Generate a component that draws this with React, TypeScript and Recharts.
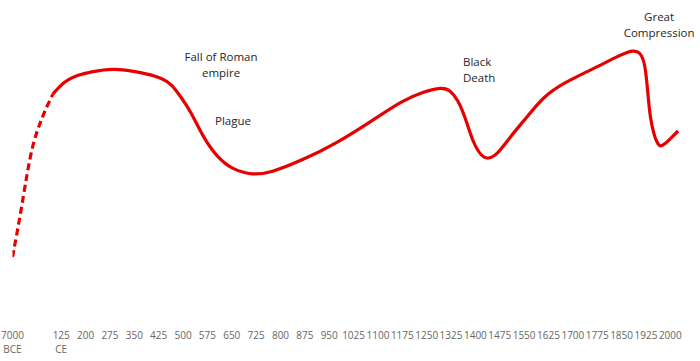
import React from "react";
import { LineChart, Line, XAxis, YAxis, ReferenceDot } from "recharts";

// Axis positions (index along the category axis) and their labels
const tickPositions = [0, 2, 3, 4, 5, 6, 7, 8, 9, 10, 11, 12, 13, 14, 15, 16, 17, 18, 19, 20, 21, 22, 23, 24, 25, 26, 27];
const tickLabels = [
  ["7000", "BCE"], ["125", "CE"], ["200"], ["275"], ["350"], ["425"], ["500"], ["575"], ["650"],
  ["725"], ["800"], ["875"], ["950"], ["1025"], ["1100"], ["1175"], ["1250"], ["1325"], ["1400"],
  ["1475"], ["1550"], ["1625"], ["1700"], ["1775"], ["1850"], ["1925"], ["2000"],
];

// Estimated curve (axis position, relative level)
const dashedPos = [0, 0.31, 0.6, 0.84, 1.13, 1.38, 1.66];
const dashedVal = [63, 103, 147, 177, 197, 212, 226];

const solidPos = [1.66, 1.95, 2.24, 2.69, 3.18, 4.12, 5.23, 6.18, 6.55, 6.88, 7.29, 7.82, 8.39, 9.05, 9.87, 10.57, 11.92, 13.32, 14.68, 16.03, 16.85, 17.63, 17.96, 18.29, 18.58, 18.9, 19.27, 19.52, 19.89, 20.42, 21.12, 21.78, 22.6, 23.99, 24.94, 25.47, 25.76, 25.97, 26.09, 26.17, 26.33, 26.46, 26.58, 26.79, 27.07, 27.32];
const solidVal = [226, 234, 240, 245, 248, 252, 248, 242, 235, 224, 210, 183, 163, 150, 145, 147, 160, 177, 198, 220, 228, 233, 230, 220, 203, 177, 163, 161, 165, 183, 203, 223, 237, 253, 265, 270, 268, 257, 223, 203, 185, 177, 173, 176, 183, 189];

const annotationText = [["Fall of Roman", "empire"], ["Plague"], ["Black", "Death"], ["Great", "Compression"]];
const annotationPos = [8.56, 9.05, 18.49, 26.54];
const annotationVal = [263, 199, 258, 303];
const annotationAnchor = ["middle", "middle", "start", "middle"];

const dashedData = dashedPos.map((p, i) => ({ pos: p, v: dashedVal[i] }));
const solidData = solidPos.map((p, i) => ({ pos: p, v: solidVal[i] }));

const FONT = "'Open Sans', sans-serif";
const RED = "#e60000";

const Tick = (props: any) => {
  const { x, y, payload } = props;
  const idx = tickPositions.indexOf(payload.value);
  const lines = idx >= 0 ? tickLabels[idx] : [];
  return (
    <g>
      {lines.map((t: string, i: number) => (
        <text key={i} x={x} y={y + 11 + i * 14} textAnchor="middle" fontSize={10} fontFamily={FONT} fill="#666">
          {t}
        </text>
      ))}
    </g>
  );
};

const makeShape = (lines: string[], anchor: string) => (p: any) => {
  const { cx, cy } = p;
  return (
    <g>
      {lines.map((t, i) => (
        <text key={i} x={cx} y={cy + 4 + i * 15.5} textAnchor={anchor as any} fontSize={11.5} fontFamily={FONT} fill="#262626">
          {t}
        </text>
      ))}
    </g>
  );
};

export default function App() {
  return (
    <div>
      <style>{"body{margin:0;background:#fff}"}</style>
      <LineChart width={700} height={361} margin={{ top: 0, right: 17.5, bottom: 0, left: 12.5 }}>
        <XAxis
          dataKey="pos"
          type="number"
          domain={[0, 27.5]}
          ticks={tickPositions}
          interval={0}
          axisLine={false}
          tickLine={false}
          height={41}
          tick={<Tick />}
          allowDataOverflow
        />
        <YAxis type="number" domain={[0, 320]} hide width={0} allowDataOverflow />
        <Line data={dashedData} dataKey="v" type="basis" stroke={RED} strokeWidth={3.2} strokeDasharray="7 4" dot={false} isAnimationActive={false} />
        <Line data={solidData} dataKey="v" type="basis" stroke={RED} strokeWidth={3.2} dot={false} isAnimationActive={false} />
        {annotationText.map((lines, i) => (
          <ReferenceDot
            key={i}
            x={annotationPos[i]}
            y={annotationVal[i]}
            r={0}
            shape={makeShape(lines, annotationAnchor[i])}
          />
        ))}
      </LineChart>
    </div>
  );
}
